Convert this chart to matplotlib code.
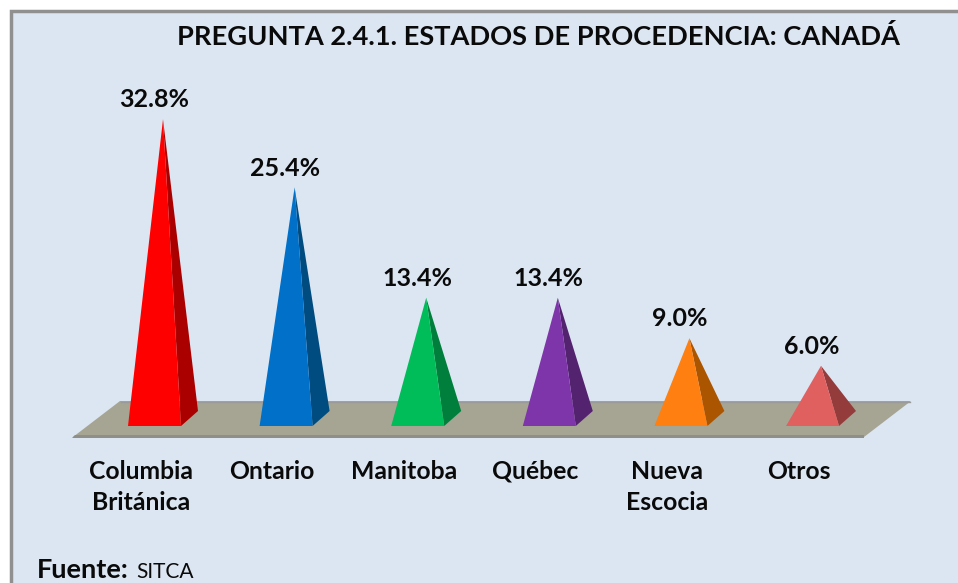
import numpy as np
import matplotlib
matplotlib.use("Agg")
import matplotlib.pyplot as plt
from matplotlib.patches import Polygon, Rectangle

plt.rcParams['font.family'] = ['Lato', 'DejaVu Sans']

categories = ['Columbia\nBritánica', 'Ontario', 'Manitoba', 'Québec', 'Nueva\nEscocia', 'Otros']
values = [32.8, 25.4, 13.4, 13.4, 9.0, 6.0]
value_labels = ['32.8%', '25.4%', '13.4%', '13.4%', '9.0%', '6.0%']
front_colors = ['#ff0000', '#0070c8', '#00bd5a', '#7e35aa', '#ff7f10', '#e06060']
side_colors = ['#ab0000', '#004c80', '#007f3c', '#54236f', '#ab5500', '#943c3c']

W, H = 958, 583
PX_X = 131.6   # pixels per category
PX_Y = 9.2     # pixels per percent
X0 = 154.5     # pixel x of first category
Y0 = 421.0     # pixel y of value 0

fig = plt.figure(figsize=(W / 100, H / 100), dpi=100, facecolor='white')
ax = fig.add_axes([0, 0, 1, 1])
ax.set_xlim((0 - X0) / PX_X, (W - X0) / PX_X)
ax.set_ylim((Y0 - H) / PX_Y, Y0 / PX_Y)
ax.axis('off')


def px(x, y):
    # picture pixels -> data units, only for the frame and floor
    return ((x - X0) / PX_X, (Y0 - y) / PX_Y)


# panel
x1, y1 = px(11, 11)
x2, y2 = px(W + 5, H + 5)
ax.add_patch(Rectangle((x1, y2), x2 - x1, y1 - y2, facecolor='#dce6f2',
                       edgecolor='#909090', linewidth=2.5, zorder=0))

# floor
ax.add_patch(Polygon([px(73, 437), px(120, 401), px(911, 401), px(864, 437)],
                     facecolor='#a6a594', edgecolor='none', zorder=1))
ax.add_patch(Polygon([px(75, 435), px(864, 435), px(864, 437.5), px(72, 437.5)],
                     facecolor='#8f8f8a', edgecolor='none', zorder=1.5))
ax.plot(*zip(px(121, 401.5), px(910, 401.5)), color='#9a9a9a', lw=1, zorder=1.5)

half = 26.5 / PX_X
dx = 17 / PX_X
base = -5 / PX_Y
dy = 15 / PX_Y

for i, v in enumerate(values):
    apex = (i + dx / 2, v)
    ax.add_patch(Polygon([(i - half, base), (i + half, base), apex],
                         facecolor=front_colors[i], edgecolor='none', zorder=3))
    ax.add_patch(Polygon([(i + half, base), (i + half + dx, base + dy), apex],
                         facecolor=side_colors[i], edgecolor='none', zorder=2))
    ax.text(i - 0.07 + dx / 2, v + 0.85, value_labels[i], ha='center', va='bottom',
            fontsize=18, fontweight='bold', color='#0a0a0a', zorder=4)
    ax.text(i - 0.105, -4.2, categories[i], ha='center', va='top', fontsize=17.8,
            fontweight='bold', color='#0a0a0a', linespacing=1.44, zorder=4)

tx, ty = px(177, 36)
ax.text(tx, ty, 'PREGUNTA 2.4.1. ESTADOS DE PROCEDENCIA: CANADÁ', ha='left', va='center',
        fontsize=19.6, fontweight='bold', color='#0a0a0a', zorder=4)
fx, fy = px(37, 577.5)
ax.text(fx, fy, 'Fuente:', ha='left', va='baseline', fontsize=19.5, fontweight='bold',
        color='#0a0a0a', zorder=4)
sx, sy = px(136, 577.5)
ax.text(sx, sy, 'SITCA', ha='left', va='baseline', fontsize=15, color='#0a0a0a', zorder=4)

fig.savefig('out.png', dpi=100, facecolor=fig.get_facecolor())
